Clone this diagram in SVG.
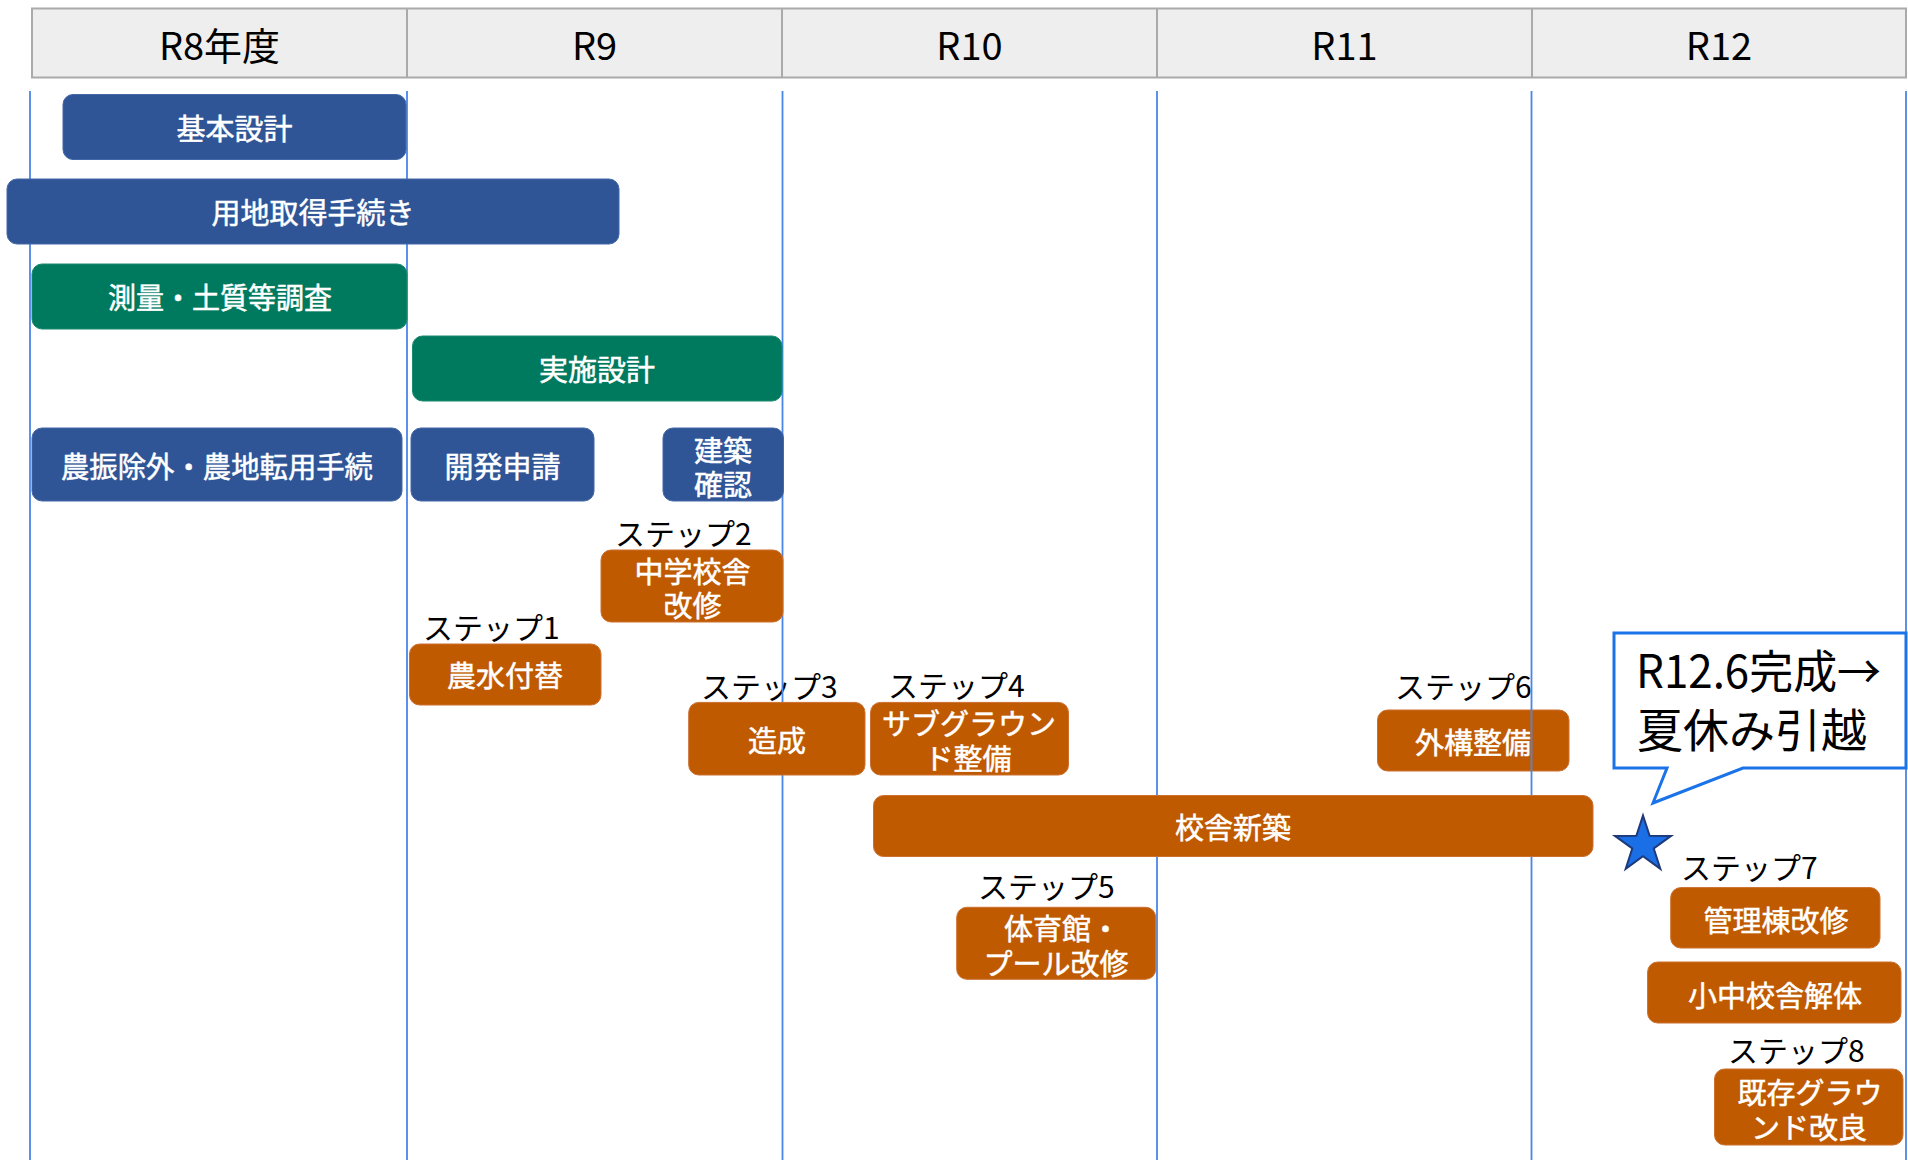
<svg xmlns="http://www.w3.org/2000/svg" width="1908" height="1160" viewBox="0 0 1908 1160">
<style>
  .hdr{font-family:"Noto Sans CJK JP","Liberation Sans",sans-serif;font-size:38px;fill:#000;text-anchor:middle}
  .bt{font-family:"Noto Sans CJK JP","Liberation Sans",sans-serif;font-size:29px;fill:#fff;stroke:#fff;stroke-width:0.5;text-anchor:middle;dominant-baseline:central}
  .st{font-family:"Noto Sans CJK JP","Liberation Sans",sans-serif;font-size:30px;fill:#000}
  .co{font-family:"Noto Sans CJK JP","Liberation Sans",sans-serif;font-size:46px;fill:#000}
  .blue{fill:#2f5597;stroke:#4468a8;stroke-width:1}
  .green{fill:#007a5e;stroke:#1a8a70;stroke-width:1}
  .orange{fill:#c05a00;stroke:#cc7030;stroke-width:1}
  .grid{stroke:#4a86e8;stroke-width:1.8}
  .hsep{stroke:#aaaaaa;stroke-width:2}
</style>
<rect width="1908" height="1160" fill="#ffffff"/>

<g id="header">
  <rect x="32" y="8.5" width="1874" height="69" fill="#eeeeee" stroke="#aaaaaa" stroke-width="2"/>
  <line class="hsep" x1="407" y1="8.5" x2="407" y2="77.5"/>
  <line class="hsep" x1="782" y1="8.5" x2="782" y2="77.5"/>
  <line class="hsep" x1="1157" y1="8.5" x2="1157" y2="77.5"/>
  <line class="hsep" x1="1532" y1="8.5" x2="1532" y2="77.5"/>
  <text class="hdr" x="219.5" y="60">R8年度</text>
  <text class="hdr" x="594.5" y="60">R9</text>
  <text class="hdr" x="969.5" y="60">R10</text>
  <text class="hdr" x="1344.5" y="60">R11</text>
  <text class="hdr" x="1719" y="60">R12</text>
</g>

<g id="labels">
  <text class="st" x="423" y="639">ステップ1</text>
  <text class="st" x="615" y="545">ステップ2</text>
  <text class="st" x="701" y="698">ステップ3</text>
  <text class="st" x="888" y="697">ステップ4</text>
  <text class="st" x="978" y="898">ステップ5</text>
  <text class="st" x="1395" y="698">ステップ6</text>
  <text class="st" x="1681" y="879">ステップ7</text>
  <text class="st" x="1728" y="1062">ステップ8</text>
</g>

<g id="n-gaiko">
  <rect class="orange" x="1377.5" y="710" width="191.5" height="61" rx="10"/>
  <text class="bt" x="1473" y="741">外構整備</text>
</g>

<g id="grid">
  <line class="grid" x1="30" y1="91" x2="30" y2="1160"/>
  <line class="grid" x1="407" y1="91" x2="407" y2="1160"/>
  <line class="grid" x1="782.5" y1="91" x2="782.5" y2="1160"/>
  <line class="grid" x1="1157" y1="91" x2="1157" y2="1160"/>
  <line class="grid" x1="1531.5" y1="91" x2="1531.5" y2="1160"/>
  <line class="grid" x1="1906" y1="91" x2="1906" y2="1160"/>
</g>

<g id="n-kihon">
  <rect class="blue" x="63" y="94.5" width="343" height="65" rx="10"/>
  <text class="bt" x="234.5" y="127">基本設計</text>
</g>
<g id="n-yochi">
  <rect class="blue" x="7" y="179" width="612" height="65" rx="10"/>
  <text class="bt" x="313" y="211">用地取得手続き</text>
</g>
<g id="n-sokuryo">
  <rect class="green" x="32" y="264" width="375" height="65" rx="10"/>
  <text class="bt" x="220" y="296" textLength="224" lengthAdjust="spacingAndGlyphs">測量・土質等調査</text>
</g>
<g id="n-jisshi">
  <rect class="green" x="412.5" y="336" width="369.5" height="65" rx="10"/>
  <text class="bt" x="597" y="368">実施設計</text>
</g>
<g id="n-noshin">
  <rect class="blue" x="32" y="428" width="370" height="73" rx="10"/>
  <text class="bt" x="217" y="465" textLength="312" lengthAdjust="spacingAndGlyphs">農振除外・農地転用手続</text>
</g>
<g id="n-kaihatsu">
  <rect class="blue" x="411" y="428" width="183" height="73" rx="10"/>
  <text class="bt" x="502.5" y="465">開発申請</text>
</g>
<g id="n-kenchiku">
  <rect class="blue" x="663" y="428" width="120.5" height="73" rx="10"/>
  <text class="bt" x="723" y="449">建築</text>
  <text class="bt" x="723" y="483">確認</text>
</g>
<g id="n-chugaku">
  <rect class="orange" x="601" y="550" width="182" height="72" rx="10"/>
  <text class="bt" x="692.5" y="570">中学校舎</text>
  <text class="bt" x="692.5" y="604">改修</text>
</g>
<g id="n-nosui">
  <rect class="orange" x="409.5" y="644" width="191.5" height="61" rx="10"/>
  <text class="bt" x="505" y="674">農水付替</text>
</g>
<g id="n-zosei">
  <rect class="orange" x="688.7" y="702.4" width="176.3" height="72.6" rx="10"/>
  <text class="bt" x="777" y="739">造成</text>
</g>
<g id="n-sub">
  <rect class="orange" x="870.5" y="702.4" width="198" height="72.6" rx="10"/>
  <text class="bt" x="969" y="722">サブグラウン</text>
  <text class="bt" x="968" y="757">ド整備</text>
</g>
<g id="n-koshashinchiku">
  <rect class="orange" x="873.5" y="795.5" width="719.5" height="61" rx="10"/>
  <text class="bt" x="1233" y="826">校舎新築</text>
</g>
<g id="n-taiikukan">
  <rect class="orange" x="956.7" y="907.3" width="199" height="72" rx="10"/>
  <text class="bt" x="1062" y="927">体育館・</text>
  <text class="bt" x="1056" y="962">プール改修</text>
</g>
<g id="n-kanri">
  <rect class="orange" x="1670.7" y="887.6" width="209.3" height="60.4" rx="10"/>
  <text class="bt" x="1776" y="919">管理棟改修</text>
</g>
<g id="n-kaitai">
  <rect class="orange" x="1647.6" y="962" width="253.4" height="61" rx="10"/>
  <text class="bt" x="1775" y="994">小中校舎解体</text>
</g>
<g id="n-kizon">
  <rect class="orange" x="1714.5" y="1069" width="188.5" height="76" rx="10"/>
  <text class="bt" x="1810" y="1091">既存グラウ</text>
  <text class="bt" x="1809" y="1126">ンド改良</text>
</g>

<g id="callout">
  <path d="M1614,633 H1906 V768 H1743 L1653,803 L1667,768 H1614 Z" fill="#ffffff" stroke="#1a73e8" stroke-width="3" stroke-linejoin="miter"/>
  <text class="co" x="1636" y="688" textLength="245" lengthAdjust="spacingAndGlyphs">R12.6完成→</text>
  <text class="co" x="1637" y="747">夏休み引越</text>
</g>

<g id="star">
  <polygon points="1643,815.5 1649.64,835.86 1671.06,835.88 1653.75,848.49 1660.34,868.87 1643,856.3 1625.66,868.87 1632.25,848.49 1614.94,835.88 1636.36,835.86" fill="#1a6ee6" stroke="#1f3a7a" stroke-width="2" stroke-linejoin="miter"/>
</g>
</svg>
